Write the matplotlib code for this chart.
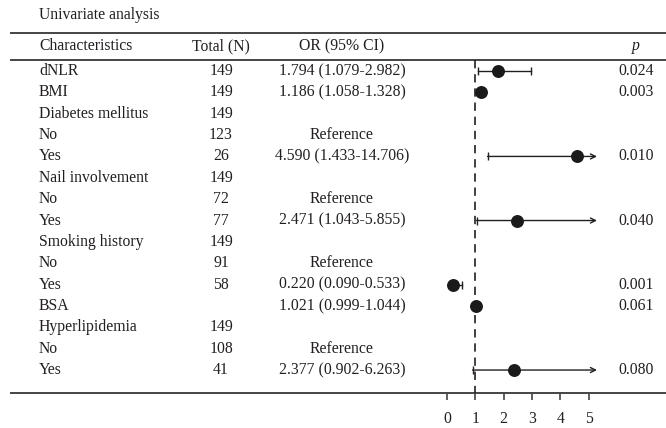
import numpy as np
import matplotlib
matplotlib.use('Agg')
import matplotlib.pyplot as plt

plt.rcParams['font.family'] = ['Liberation Serif', 'DejaVu Serif']

labels = ['dNLR', 'BMI', 'Diabetes mellitus', 'No', 'Yes', 'Nail involvement', 'No', 'Yes',
          'Smoking history', 'No', 'Yes', 'BSA', 'Hyperlipidemia', 'No', 'Yes']
totals = ['149', '149', '149', '123', '26', '149', '72', '77', '149', '91', '58', '', '149', '108', '41']
odds = [1.794, 1.186, np.nan, 'ref', 4.590, np.nan, 'ref', 2.471, np.nan, 'ref', 0.220, 1.021, np.nan, 'ref', 2.377]
ci_low = [1.079, 1.058, np.nan, np.nan, 1.433, np.nan, np.nan, 1.043, np.nan, np.nan, 0.090, 0.999, np.nan, np.nan, 0.902]
ci_high = [2.982, 1.328, np.nan, np.nan, 14.706, np.nan, np.nan, 5.855, np.nan, np.nan, 0.533, 1.044, np.nan, np.nan, 6.263]
pvals = ['0.024', '0.003', '', '', '0.010', '', '', '0.040', '', '', '0.001', '0.061', '', '', '0.080']
xticks = [0, 1, 2, 3, 4, 5]
x_max = 5.3

W, H = 666, 428
row0, step = 71, 21.36
def r(px):
    return (px - row0) / step

ink = '#231f20'
fs = 11.3

fig = plt.figure(figsize=(W / 100, H / 100), dpi=100)
ax = fig.add_axes([0, 0, 1, 1])
ax.set_xlim(0, W)
ax.set_ylim(r(H), r(0))
ax.axis('off')

# table text
ax.text(39, r(15), 'Univariate analysis', fontsize=fs, color=ink, va='center')
hy = r(46)
ax.text(39, hy, 'Characteristics', fontsize=fs, color=ink, va='center')
ax.text(221, hy, 'Total (N)', fontsize=fs, color=ink, va='center', ha='center')
ax.text(342, hy, 'OR (95% CI)', fontsize=fs, color=ink, va='center', ha='center')
ax.text(636, hy, 'p', fontsize=fs, color=ink, va='center', ha='center', style='italic')

for i, lab in enumerate(labels):
    ax.text(39, i, lab, fontsize=fs, color=ink, va='center')
    ax.text(221, i, totals[i], fontsize=fs, color=ink, va='center', ha='center')
    o = odds[i]
    if o == 'ref':
        txt = 'Reference'
    elif np.isnan(o):
        txt = ''
    else:
        txt = f'{o:.3f} ({ci_low[i]:.3f}-{ci_high[i]:.3f})'
    ax.text(342, i, txt, fontsize=fs, color=ink, va='center', ha='center')
    ax.text(636, i, pvals[i], fontsize=fs, color=ink, va='center', ha='center')

for y in [r(33), r(60), r(393)]:
    ax.plot([10, W], [y, y], color='#444444', lw=1.4, solid_capstyle='butt')

# forest panel
fx0 = 447 - 28.3
fw = 28.3 * 6.5
fax = fig.add_axes([fx0 / W, 0, fw / W, 1], facecolor='none')
fax.set_xlim(-1, 5.5)
fax.set_ylim(r(H), r(0))
for s in ['top', 'left', 'right']:
    fax.spines[s].set_visible(False)
fax.spines['bottom'].set_position(('data', r(393)))
fax.spines['bottom'].set_linewidth(0)
fax.set_yticks([])
fax.set_xticks(xticks)
fax.tick_params(axis='x', direction='out', length=5, width=1.2, color='#444444',
                labelsize=fs, labelcolor=ink, pad=8)

fax.vlines(1, r(60), r(393), colors=ink, linestyles=(0, (5, 3.5)), lw=1.2)

for i in range(len(labels)):
    o = odds[i]
    if o == 'ref' or np.isnan(o):
        continue
    lo, hi = ci_low[i], ci_high[i]
    fax.plot([lo], [i], marker='|', ms=5.5, mew=1.0, color=ink)
    if hi > x_max:
        fax.annotate('', xy=(x_max, i), xytext=(lo, i),
                     arrowprops=dict(arrowstyle='->', color=ink, lw=1.0,
                                     shrinkA=0, shrinkB=0, mutation_scale=9))
    else:
        fax.plot([lo, hi], [i, i], color=ink, lw=1.0)
        fax.plot([hi], [i], marker='|', ms=5.5, mew=1.0, color=ink)
    fax.plot([o], [i], marker='o', ms=8.3, color='#1a1a1a', zorder=5)

fig.savefig('out.png', dpi=100)
